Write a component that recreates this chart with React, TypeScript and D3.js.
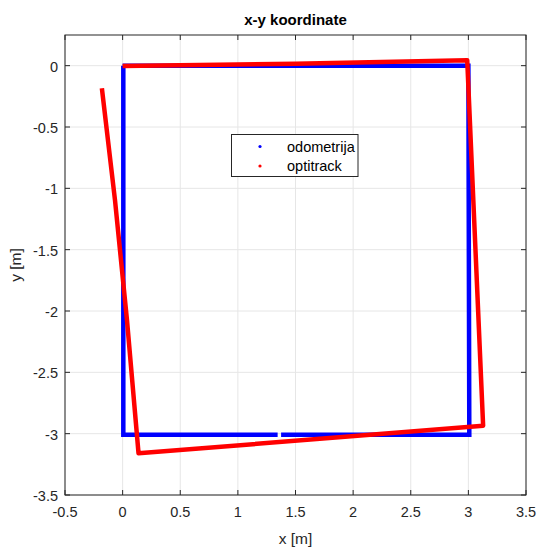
import React from "react";
import * as d3 from "d3";

const xTicks = [-0.5, 0, 0.5, 1, 1.5, 2, 2.5, 3, 3.5];
const yTicks = [0, -0.5, -1, -1.5, -2, -2.5, -3, -3.5];
const odometrijaA: [number, number][] = [
  [0, 0], [3, 0], [3.008, -3.008], [1.375, -3.008],
];
const odometrijaB: [number, number][] = [
  [1.345, -3.008], [0.006, -3.008], [0.006, 0],
];
const optitrack: [number, number][] = [
  [0, -0.003], [1.5, 0.015], [2.99, 0.045], [3.128, -2.935], [0.138, -3.16],
  [0.038, -2.076], [-0.066, -1.098], [-0.18, -0.185],
];
const legendLabels = ["odometrija", "optitrack"];
const colors = ["#0000ff", "#ff0000"];

export default function App() {
  const W = 538, H = 548;
  const L = 65, R = 526, T = 35, B = 495;
  const x = d3.scaleLinear().domain([-0.5, 3.5]).range([L, R]);
  const y = d3.scaleLinear().domain([-3.5, 0.25]).range([B, T]);
  const line = d3.line<[number, number]>().x(d => x(d[0])).y(d => y(d[1]));
  const axisColor = "#262626";
  const font = "'Liberation Sans', Arial, Helvetica, sans-serif";
  const tl = 5;
  return (
    <svg width={W} height={H} style={{ position: "absolute", left: 0, top: 0, background: "#fff" }}>
      <rect x={0} y={0} width={W} height={H} fill="#fff" />
      {xTicks.map(t => (
        <line key={"gx" + t} x1={x(t)} x2={x(t)} y1={T} y2={B} stroke="#e6e6e6" strokeWidth={1} />
      ))}
      {yTicks.map(t => (
        <line key={"gy" + t} x1={L} x2={R} y1={y(t)} y2={y(t)} stroke="#e6e6e6" strokeWidth={1} />
      ))}
      {[odometrijaA, odometrijaB].map((d, i) => (
        <path key={"o" + i} d={line(d) || ""} fill="none" stroke={colors[0]} strokeWidth={4.5} strokeLinejoin="miter" />
      ))}
      <path d={line(optitrack) || ""} fill="none" stroke={colors[1]} strokeWidth={4.5} strokeLinejoin="round" />
      <rect x={L} y={T} width={R - L} height={B - T} fill="none" stroke={axisColor} strokeWidth={1} />
      {xTicks.map(t => (
        <g key={"tx" + t}>
          <line x1={x(t)} x2={x(t)} y1={B} y2={B - tl} stroke={axisColor} />
          <line x1={x(t)} x2={x(t)} y1={T} y2={T + tl} stroke={axisColor} />
          <text x={x(t)} y={B + 22} textAnchor="middle" fontSize={14.5} fill={axisColor} fontFamily={font}>{t}</text>
        </g>
      ))}
      {yTicks.map(t => (
        <g key={"ty" + t}>
          <line x1={L} x2={L + tl} y1={y(t)} y2={y(t)} stroke={axisColor} />
          <line x1={R} x2={R - tl} y1={y(t)} y2={y(t)} stroke={axisColor} />
          <text x={L - 7} y={y(t) + 6} textAnchor="end" fontSize={14.5} fill={axisColor} fontFamily={font}>{t}</text>
        </g>
      ))}
      <text x={(L + R) / 2} y={25} textAnchor="middle" fontSize={15} fontWeight="bold" fill="#000" fontFamily={font}>x-y koordinate</text>
      <text x={(L + R) / 2} y={544} textAnchor="middle" fontSize={15.5} fill={axisColor} fontFamily={font}>x [m]</text>
      <text transform={`translate(21,${(T + B) / 2}) rotate(-90)`} textAnchor="middle" fontSize={15.5} fill={axisColor} fontFamily={font}>y [m]</text>
      <g>
        <rect x={231.5} y={134.5} width={126.5} height={42} fill="#fff" stroke={axisColor} strokeWidth={1} />
        {legendLabels.map((lab, i) => (
          <g key={lab}>
            <circle cx={260} cy={146.5 + i * 19.5} r={1.6} fill={colors[i]} />
            <text x={287} y={151.5 + i * 19.5} fontSize={14.5} fill="#000" fontFamily={font}>{lab}</text>
          </g>
        ))}
      </g>
    </svg>
  );
}
